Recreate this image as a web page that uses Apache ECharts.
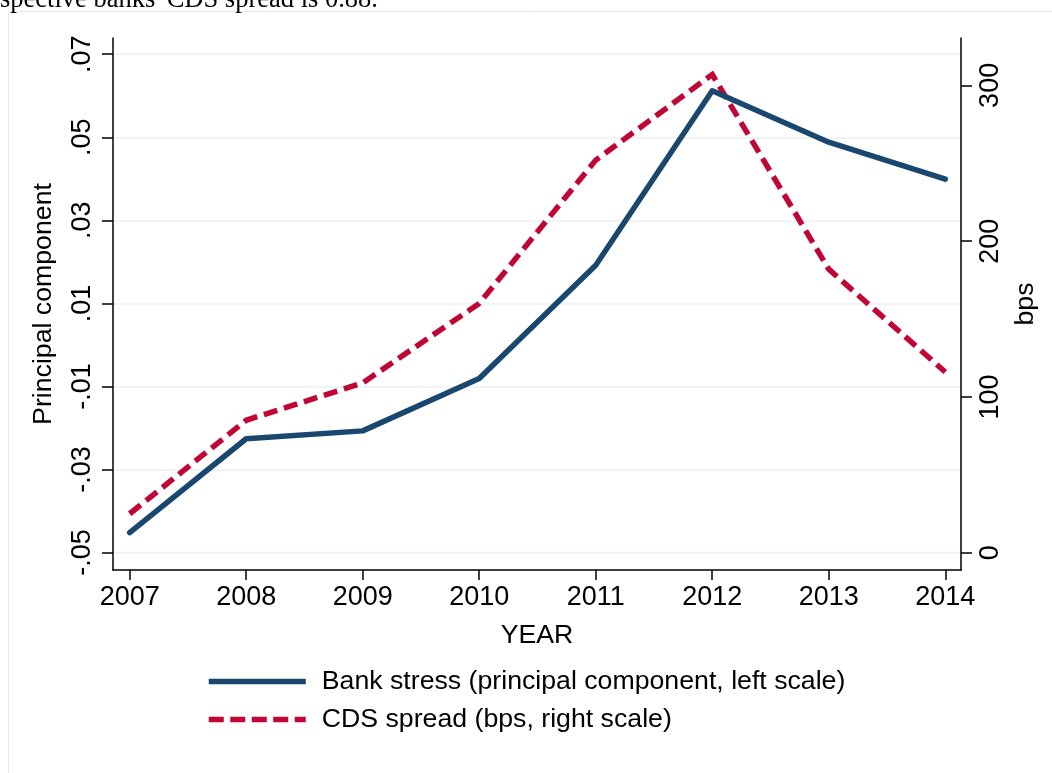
<!DOCTYPE html>
<html><head><meta charset="utf-8">
<script src="https://cdn.jsdelivr.net/npm/echarts@6/dist/echarts.min.js"></script>
<style>html,body{margin:0;padding:0;background:#fff}#c{width:1052px;height:773px}</style>
</head><body><div id="c"></div>
<script>
const years = [2007, 2008, 2009, 2010, 2011, 2012, 2013, 2014];
const bankStress = [-0.0452, -0.0226, -0.0207, -0.0081, 0.0192, 0.0612, 0.0488, 0.0399];
const cdsSpread = [25, 85, 109, 160, 252, 307, 182, 116];
const leftTicks = [-0.05, -0.03, -0.01, 0.01, 0.03, 0.05, 0.07];
const leftTickLabels = ['-.05', '-.03', '-.01', '.01', '.03', '.05', '.07'];
const rightTicks = [0, 100, 200, 300];
const rightTickLabels = ['0', '100', '200', '300'];
const xTickLabels = ['2007', '2008', '2009', '2010', '2011', '2012', '2013', '2014'];
const seriesNames = ['Bank stress (principal component, left scale)', 'CDS spread (bps, right scale)'];
const topText = "spective banks' CDS spread is 0.88.";

const FONT = 'Liberation Sans';
const FS = 26.7;
const BLUE = '#1a476f';
const RED = '#c10534';

function labelFor(ticks, labels) {
  return function (v) {
    const i = ticks.findIndex(t => Math.abs(t - v) < 1e-7);
    return i >= 0 ? labels[i] : '';
  };
}

const chart = echarts.init(document.getElementById('c'), null, { renderer: 'canvas' });
chart.setOption({
  backgroundColor: '#ffffff',
  animation: false,
  textStyle: { fontFamily: FONT },
  graphic: [
    { type: 'rect', z: -10, shape: { x: 8.5, y: 11.5, width: 1100, height: 800 },
      style: { fill: 'none', stroke: '#e3e9eb', lineWidth: 1 } },
    { type: 'text', x: 0, y: 0,
      style: { text: topText, fontFamily: 'Liberation Serif', fontSize: 26.5, fill: '#000', verticalAlign: 'middle' } }
  ],
  grid: { left: 113, right: 91, top: 38, bottom: 203, containLabel: false },
  legend: {
    orient: 'vertical', left: 206, top: 668, padding: 0,
    itemWidth: 97, itemHeight: 26, itemGap: 11,
    itemStyle: { color: 'rgba(0,0,0,0)', borderWidth: 0, opacity: 0 },
    textStyle: { fontFamily: FONT, fontSize: FS, color: '#000', padding: [0, 0, 0, 11] },
    data: [
      { name: seriesNames[0], lineStyle: { color: BLUE, width: 5.5, type: 'solid', cap: 'butt' } },
      { name: seriesNames[1], lineStyle: { color: RED, width: 5.5, type: [15, 6.5], cap: 'butt' } }
    ]
  },
  xAxis: {
    type: 'value', min: 2006.857, max: 2014.135,
    name: 'YEAR', nameLocation: 'middle', nameGap: 52,
    nameTextStyle: { fontFamily: FONT, fontSize: FS, color: '#000' },
    axisLine: { show: true, onZero: false, lineStyle: { color: '#000', width: 1.5 } },
    axisTick: { show: true, length: 10, lineStyle: { color: '#000', width: 1.5 }, customValues: years },
    axisLabel: { show: true, fontFamily: FONT, fontSize: 27, color: '#000', margin: 14,
      customValues: years, formatter: labelFor(years, xTickLabels) },
    splitLine: { show: false }
  },
  yAxis: [
    {
      type: 'value', position: 'left', min: -0.0542, max: 0.0739,
      name: 'Principal component', nameLocation: 'middle', nameGap: 56, nameRotate: 90,
      nameTextStyle: { fontFamily: FONT, fontSize: FS, color: '#000' },
      axisLine: { show: true, onZero: false, lineStyle: { color: '#000', width: 1.5 } },
      axisTick: { show: true, length: 11, lineStyle: { color: '#000', width: 1.5 }, customValues: leftTicks },
      axisLabel: { show: true, rotate: 90, fontFamily: FONT, fontSize: 27, color: '#000', margin: 17,
        customValues: leftTicks, formatter: labelFor(leftTicks, leftTickLabels) },
      splitLine: { show: true, lineStyle: { color: '#eaf1f3', width: 1.5 } }
    },
    {
      type: 'value', position: 'right', min: -11.1, max: 330.4,
      name: 'bps', nameLocation: 'middle', nameGap: 45, nameRotate: 90,
      nameTextStyle: { fontFamily: FONT, fontSize: FS, color: '#000' },
      axisLine: { show: true, onZero: false, lineStyle: { color: '#000', width: 1.5 } },
      axisTick: { show: true, length: 11, lineStyle: { color: '#000', width: 1.5 }, customValues: rightTicks },
      axisLabel: { show: true, rotate: 90, fontFamily: FONT, fontSize: 27, color: '#000', margin: 16,
        customValues: rightTicks, formatter: labelFor(rightTicks, rightTickLabels) },
      splitLine: { show: false }
    }
  ],
  series: [
    {
      name: seriesNames[0], type: 'line', yAxisIndex: 0, symbol: 'none',
      data: years.map((y, i) => [y, bankStress[i]]),
      lineStyle: { color: BLUE, width: 5.5, cap: 'round', join: 'round' },
      itemStyle: { color: BLUE }, z: 3
    },
    {
      name: seriesNames[1], type: 'line', yAxisIndex: 1, symbol: 'none',
      data: years.map((y, i) => [y, cdsSpread[i]]),
      lineStyle: { color: RED, width: 5.5, type: [14, 7], cap: 'butt', join: 'miter' },
      itemStyle: { color: RED }, z: 2
    }
  ]
});
</script></body></html>
